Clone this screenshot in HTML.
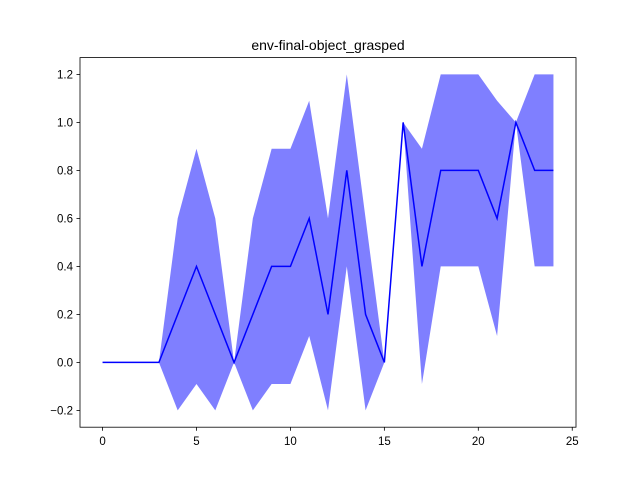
<!DOCTYPE html>
<html><head><meta charset="utf-8"><style>
html,body{margin:0;padding:0;background:#fff;}
svg{display:block;font-family:"Liberation Sans","DejaVu Sans",sans-serif;}
</style></head><body>
<svg id="chart" width="640" height="480" xmlns="http://www.w3.org/2000/svg">
<rect width="640" height="480" fill="#fff"/>
<text x="328" y="50" text-anchor="middle" font-size="14">env-final-object_grasped</text>
<g id="band"></g>
<g id="line"></g>
<rect x="80" y="57.6" width="496" height="369.6" fill="none" stroke="#000" stroke-width="0.8"/>
<g id="xticks"></g>
<g id="yticks"></g>
</svg>
<script>
const steps = [0,1,2,3,4,5,6,7,8,9,10,11,12,13,14,15,16,17,18,19,20,21,22,23,24];
const meanVals = [0,0,0,0,0.2,0.4,0.2,0,0.2,0.4,0.4,0.6,0.2,0.8,0.2,0,1.0,0.4,0.8,0.8,0.8,0.6,1.0,0.8,0.8];
const upperVals = [0,0,0,0,0.6,0.89,0.6,0,0.6,0.89,0.89,1.09,0.6,1.2,0.6,0,1.0,0.89,1.2,1.2,1.2,1.09,1.0,1.2,1.2];
const lowerVals = [0,0,0,0,-0.2,-0.09,-0.2,0,-0.2,-0.09,-0.09,0.11,-0.2,0.4,-0.2,0,1.0,-0.09,0.4,0.4,0.4,0.11,1.0,0.4,0.4];
const xTickVals = [0,5,10,15,20,25];
const yTickVals = [-0.2,0,0.2,0.4,0.6,0.8,1.0,1.2];

const L=80,R=576,T=57.6,B=427.2;
const xmin=-1.2,xmax=25.2,ymin=-0.27,ymax=1.27;
const sx=v=>L+(v-xmin)/(xmax-xmin)*(R-L);
const sy=v=>B-(v-ymin)/(ymax-ymin)*(B-T);
const NS="http://www.w3.org/2000/svg";

let d="";
steps.forEach((s,i)=>{d+=(i?"L":"M")+sx(s)+","+sy(upperVals[i]);});
for(let i=steps.length-1;i>=0;i--){d+="L"+sx(steps[i])+","+sy(lowerVals[i]);}
d+="Z";
const band=document.createElementNS(NS,"path");
band.setAttribute("d",d);band.setAttribute("fill","#0000ff");band.setAttribute("fill-opacity","0.5");


document.getElementById("band").appendChild(band);

const pl=document.createElementNS(NS,"polyline");
pl.setAttribute("points",steps.map((s,i)=>sx(s)+","+sy(meanVals[i])).join(" "));
pl.setAttribute("fill","none");pl.setAttribute("stroke","#0000ff");pl.setAttribute("stroke-width","1.5");


document.getElementById("line").appendChild(pl);

const xg=document.getElementById("xticks");
xTickVals.forEach(v=>{
  const x=sx(v);
  const ln=document.createElementNS(NS,"line");
  ln.setAttribute("x1",x);ln.setAttribute("x2",x);ln.setAttribute("y1",B);ln.setAttribute("y2",B+3.5);ln.setAttribute("stroke","#000");ln.setAttribute("stroke-width","0.8");
  
  
  xg.appendChild(ln);
  const t=document.createElementNS(NS,"text");
  t.setAttribute("x",x);t.setAttribute("y",B+18);t.setAttribute("text-anchor","middle");t.setAttribute("font-size","11.5");
  t.textContent=String(v);
  
  
  xg.appendChild(t);
});
const yg=document.getElementById("yticks");
yTickVals.forEach(v=>{
  const y=sy(v);
  const ln=document.createElementNS(NS,"line");
  ln.setAttribute("x1",L-3.5);ln.setAttribute("x2",L);ln.setAttribute("y1",y);ln.setAttribute("y2",y);ln.setAttribute("stroke","#000");ln.setAttribute("stroke-width","0.8");
  
  
  yg.appendChild(ln);
  const t=document.createElementNS(NS,"text");
  t.setAttribute("x",L-7);t.setAttribute("y",y+4);t.setAttribute("text-anchor","end");t.setAttribute("font-size","11.5");
  t.textContent=(v<0?"\u2212":"")+Math.abs(v).toFixed(1);
  
  
  yg.appendChild(t);
});
</script>
</body></html>
